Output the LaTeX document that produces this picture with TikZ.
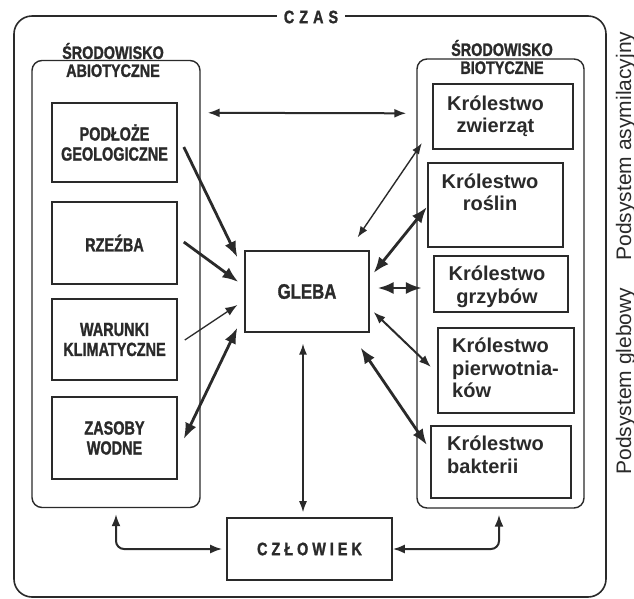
\documentclass[tikz,border=0pt]{standalone}
\usepackage{fontspec}
\setmainfont{Liberation Sans}
\newfontfamily\narrowbf[FakeStretch=0.76, FakeBold=1.3]{Liberation Sans Bold}
\newfontfamily\titlebf[FakeStretch=0.8, FakeBold=1.3]{Liberation Sans Bold}
\usetikzlibrary{arrows.meta,calc}
\definecolor{ink}{HTML}{2A2A2A}
\begin{document}
\begin{tikzpicture}[x=1pt,y=-1pt,
  every node/.style={text=ink},
  capfont/.style={font=\narrowbf\fontsize{19}{20}\selectfont},
  capbox/.style={capfont, draw=ink, line width=1.6pt, minimum width=125pt, align=center, inner sep=0pt},
  panel/.style={draw=ink, line width=1.4pt, rounded corners=10pt, inner sep=0pt, minimum width=168pt, minimum height=447pt},
  kbox/.style={draw=ink, line width=2.2pt, inner sep=0pt},
  ktext/.style={font=\bfseries\fontsize{20}{22.5}\selectfont, inner sep=0pt},
  thick arr/.style={draw=ink, line width=2.8pt, -{Latex[length=16pt,width=12pt]}},
  thick dbl/.style={draw=ink, line width=2.8pt, {Latex[length=16pt,width=12pt]}-{Latex[length=16pt,width=12pt]}},
  mid dbl/.style={draw=ink, line width=2pt, {Latex[length=12pt,width=9pt]}-{Latex[length=12pt,width=9pt]}},
  thin dbl/.style={draw=ink, line width=1.4pt, {Latex[length=11pt,width=8pt]}-{Latex[length=11pt,width=8pt]}},
  thin arr/.style={draw=ink, line width=1.3pt, -{Latex[length=12pt,width=9pt]}}
]
\useasboundingbox (0,0) rectangle (634,598);
\fill[white] (0,0) rectangle (634,598);

% outer frame
\draw[ink, line width=1.6pt, rounded corners=18pt] (14,16) rectangle (606,597);
\node[font=\titlebf\fontsize{18}{20}\selectfont, fill=white, inner xsep=7pt, inner ysep=1pt] (czas) at (311,17) {C\hspace{5pt}Z\hspace{5pt}A\hspace{5pt}S};

% panels
\node[panel] (abio) at (116,284) {};
\node[panel, minimum width=167pt, minimum height=449pt] (bio) at (500.5,283.5) {};
\node[font=\titlebf\fontsize{18}{18}\selectfont, align=center, inner sep=0pt] (abio-t) at (113,60) {ŚRODOWISKO\\ABIOTYCZNE};
\node[font=\titlebf\fontsize{18}{18}\selectfont, align=center, inner sep=0pt] (bio-t) at (502,57) {ŚRODOWISKO\\BIOTYCZNE};

% abiotic boxes
\node[capbox, minimum height=79pt] (pod) at (114.5,142.5) {PODŁOŻE\\GEOLOGICZNE};
\node[capbox, minimum height=82pt] (rze) at (114.5,243) {RZEŹBA};
\node[capbox, minimum height=81pt] (war) at (114.5,339.5) {WARUNKI\\KLIMATYCZNE};
\node[capbox, minimum height=82pt] (zas) at (114.5,438) {ZASOBY\\WODNE};

% centre
\node[draw=ink, line width=1.2pt, minimum width=124pt, minimum height=81pt, inner sep=0pt,
      font=\titlebf\fontsize{21}{24}\selectfont] (gleba) at (307,291.5) {GLEBA};
\node[draw=ink, line width=1.6pt, minimum width=165pt, minimum height=62pt, inner sep=0pt,
      font=\titlebf\fontsize{18}{20}\selectfont]
      (czl) at (309.5,549) {C\hspace{4pt}Z\hspace{4pt}Ł\hspace{4pt}O\hspace{4pt}W\hspace{4pt}I\hspace{4pt}E\hspace{4pt}K};

% biotic boxes
\node[kbox, minimum width=140pt, minimum height=65pt] (zwi) at (503,116.5) {};
\node[kbox, minimum width=135pt, minimum height=84pt] (ros) at (495.5,205) {};
\node[kbox, minimum width=134pt, minimum height=56pt] (grz) at (501,284) {};
\node[kbox, minimum width=136pt, minimum height=85pt] (pie) at (506,370.5) {};
\node[kbox, minimum width=140pt, minimum height=72pt] (bak) at (501,462) {};

\node[ktext, align=center] (zwi-t) at (495.5,116) {Królestwo\\zwierząt};
\node[ktext, align=center] (ros-t) at (490,192.5) {Królestwo\\roślin};
\node[ktext, align=center] (grz-t) at (497,287) {Królestwo\\grzybów};
\node[ktext, align=left, anchor=west] (pie-t) at (452,368) {Królestwo\\pierwotnia-\\ków};
\node[ktext, align=left, anchor=west] (bak-t) at (447,455) {Królestwo\\bakterii};

% side labels
\node[font=\fontsize{21}{24}\selectfont, rotate=90, anchor=base, inner sep=0pt] (asym) at (631,146) {Podsystem asymilacyjny};
\node[font=\fontsize{21}{24}\selectfont, rotate=90, anchor=base, inner sep=0pt] (gleb) at (631,381) {Podsystem glebowy};

% connectors
\draw[mid dbl] ($(abio.north east)+(7,53)$) -- ($(bio.north west)+(-10,55)$);
\draw[thick arr] ($(pod.east)+(6,4.5)$) -- ($(gleba.north west)+(-7,7)$);
\draw[thick arr] ($(rze.east)+(6,-1)$) -- ($(gleba.west)+(-6,-9.5)$);
\draw[thin arr] ($(war.east)+(7,0.5)$) -- ($(gleba.west)+(-7,13.5)$);
\draw[thick dbl] ($(zas.east)+(6,1)$) -- ($(gleba.south west)+(-7,-5)$);

\draw[thin dbl] ($(gleba.north east)+(-12,-13)$) -- ($(zwi.south west)+(-10,-7)$);
\draw[thick dbl] ($(gleba.east)+(4,-18.5)$) -- ($(ros.west)+(0,2)$);
\draw[thick dbl] ($(gleba.east)+(8,-3.5)$) -- ($(grz.west)+(-11,4)$);
\draw[mid dbl] ($(gleba.east)+(4,20.5)$) -- ($(pie.west)+(-6,-3.5)$);
\draw[thick dbl] ($(gleba.south east)+(-9,15)$) -- ($(bak.west)+(-3,-17)$);

\draw[thin dbl] ($(gleba.south)+(-4,11)$) -- ($(czl.north)+(-6.5,-5)$);

\draw[mid dbl, rounded corners=8pt, shorten >=4pt] ($(abio.south)+(0,6)$) |- (czl.west);
\draw[mid dbl, rounded corners=8pt] ($(bio.south)+(-1.5,6)$) |- (czl.east);
\end{tikzpicture}
\end{document}
